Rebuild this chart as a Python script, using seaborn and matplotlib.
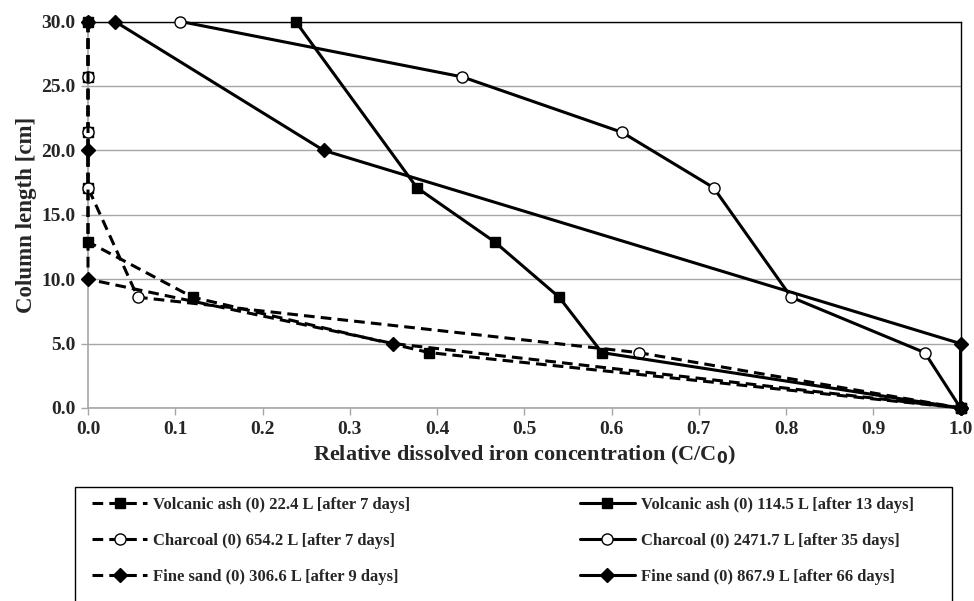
import matplotlib
matplotlib.use("Agg")
import matplotlib.pyplot as plt
import seaborn as sns
from matplotlib.patches import Rectangle

# ---- data ----
va7_x = [0.0, 0.0, 0.0, 0.0, 0.0, 0.12, 0.391, 1.0]
va7_y = [30.0, 25.7, 21.4, 17.1, 12.9, 8.6, 4.3, 0.0]
ch7_x = [0.0, 0.0, 0.0, 0.0, 0.057, 0.631, 1.0]
ch7_y = [30.0, 25.7, 21.4, 17.1, 8.6, 4.3, 0.0]
fs9_x = [0.0, 0.0, 0.0, 0.35, 1.0]
fs9_y = [30.0, 20.0, 10.0, 5.0, 0.0]
va13_x = [0.238, 0.377, 0.466, 0.54, 0.589, 1.0]
va13_y = [30.0, 17.1, 12.9, 8.6, 4.3, 0.0]
ch35_x = [0.106, 0.429, 0.612, 0.717, 0.806, 0.959, 1.0]
ch35_y = [30.0, 25.7, 21.4, 17.1, 8.6, 4.3, 0.0]
fs66_x = [0.031, 0.27, 1.0, 1.0]
fs66_y = [30.0, 20.0, 5.0, 0.0]

labels = [
    "Volcanic ash (0) 22.4 L [after 7 days]",
    "Charcoal (0) 654.2 L [after 7 days]",
    "Fine sand (0) 306.6 L [after 9 days]",
    "Volcanic ash (0) 114.5 L [after 13 days]",
    "Charcoal (0) 2471.7 L [after 35 days]",
    "Fine sand (0) 867.9 L [after 66 days]",
]
x_ticks = [0.0, 0.1, 0.2, 0.3, 0.4, 0.5, 0.6, 0.7, 0.8, 0.9, 1.0]
y_ticks = [0.0, 5.0, 10.0, 15.0, 20.0, 25.0, 30.0]

sns.set_style("white")
plt.rcParams["font.family"] = ["Liberation Serif", "DejaVu Serif"]
plt.rcParams["font.weight"] = "bold"

fig = plt.figure(figsize=(9.74, 6.01), dpi=100)
ax = fig.add_axes([88 / 974, 1 - 408 / 601, (960.5 - 88) / 974, (408 - 21.5) / 601])

series = [
    (va7_x, va7_y, "s", "black", (0, (3.5, 2)), 7),
    (ch7_x, ch7_y, "o", "white", (0, (3.5, 2)), 8),
    (fs9_x, fs9_y, "D", "black", (0, (3.5, 2)), 7.5),
    (va13_x, va13_y, "s", "black", "-", 7),
    (ch35_x, ch35_y, "o", "white", "-", 8),
    (fs66_x, fs66_y, "D", "black", "-", 7.5),
]
for (xs, ys, mk, fc, ls, ms), lab in zip(series, labels):
    sns.lineplot(x=xs, y=ys, ax=ax, sort=False, estimator=None, color="black",
                 linestyle=ls, linewidth=2.2, marker=mk, markersize=ms,
                 markerfacecolor=fc, markeredgecolor="black", markeredgewidth=1.0,
                 label=lab, zorder=3, clip_on=False)

handles, labs = ax.get_legend_handles_labels()
if ax.get_legend():
    ax.get_legend().remove()

ax.set_xlim(0, 1.0)
ax.set_ylim(0, 30)
ax.set_xticks(x_ticks)
ax.set_yticks(y_ticks)
ax.set_xticklabels([f"{v:.1f}" for v in x_ticks], fontsize=14, fontweight="bold")
ax.set_yticklabels([f"{v:.1f}" for v in y_ticks], fontsize=14, fontweight="bold")
ax.grid(axis="y", color="#a6a6a6", linewidth=1.0)
ax.grid(axis="x", visible=False)
ax.set_axisbelow(True)
for s in ["left", "bottom"]:
    ax.spines[s].set_color("#a6a6a6")
    ax.spines[s].set_linewidth(1.2)
for s in ["top", "right"]:
    ax.spines[s].set_color("black")
    ax.spines[s].set_linewidth(1.0)
ax.tick_params(axis="both", direction="out", length=5, width=1, color="#a6a6a6",
               pad=4, bottom=True, left=True)
ax.set_xlabel("Relative dissolved iron concentration (C/C$\\mathbf{_0}$)",
              fontsize=16, fontweight="bold", labelpad=5)
ax.set_ylabel("Column length [cm]", fontsize=16.5, fontweight="bold", labelpad=3)

fig.patches.append(Rectangle((75 / 974, -0.05), (952 - 75) / 974, 1 - 487 / 601 + 0.05,
                             transform=fig.transFigure, fill=False,
                             edgecolor="black", linewidth=1.0))
fig.legend(handles, labs, loc="upper left", bbox_to_anchor=(92 / 974, 1 - 497 / 601),
           ncol=2, frameon=False, prop={"family": "Liberation Serif", "weight": "bold", "size": 12},
           handlelength=3.3, handletextpad=0.35, labelspacing=1.2, columnspacing=10.2,
           borderaxespad=0, borderpad=0)

fig.savefig("out.png", dpi=100)
